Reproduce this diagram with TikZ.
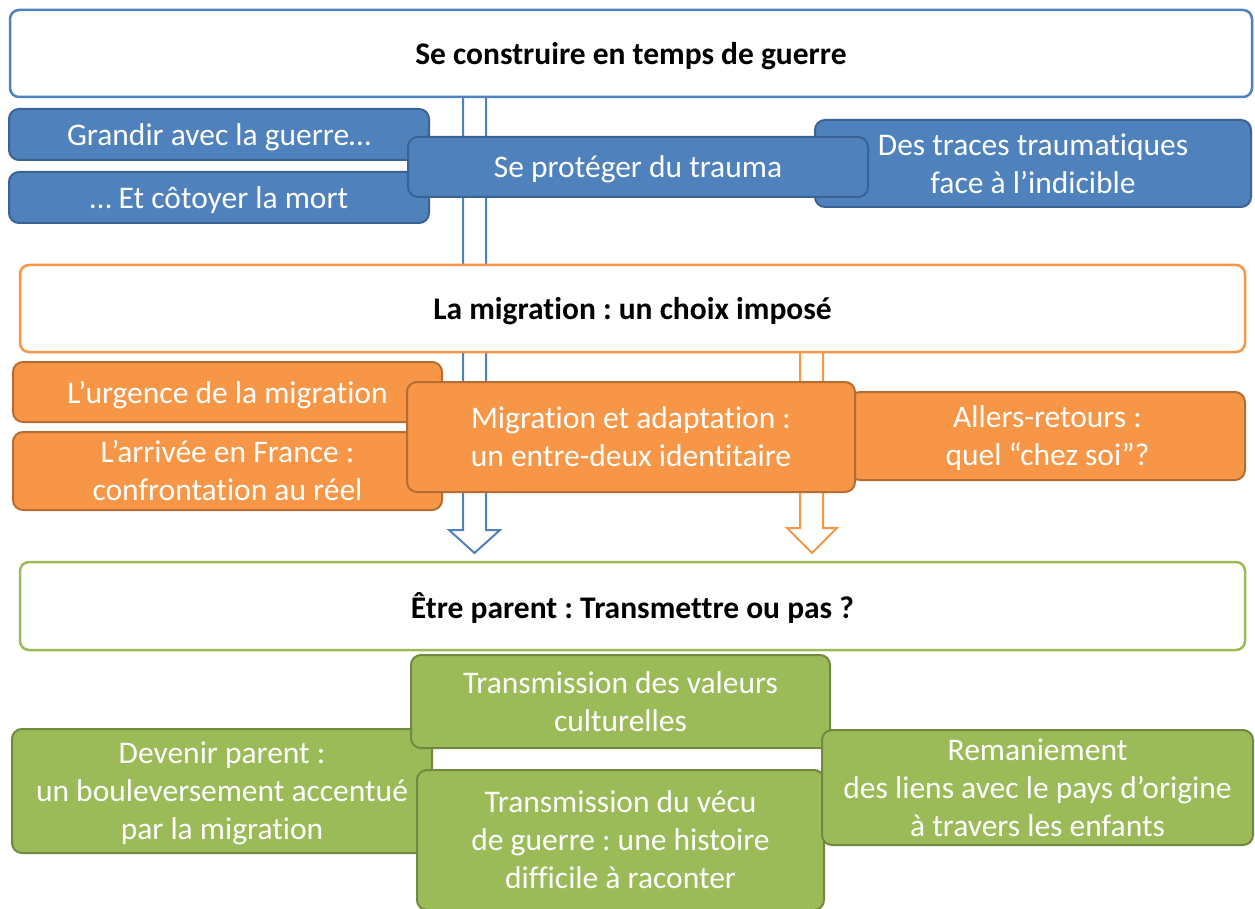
\documentclass[tikz,border=0pt]{standalone}
\usepackage{fontspec}
\setmainfont{Carlito}[Ligatures=NoCommon]
\usetikzlibrary{calc}
\definecolor{bluefill}{HTML}{4F81BD}
\definecolor{blueedge}{HTML}{3A6293}
\definecolor{orangefill}{HTML}{F79646}
\definecolor{orangeedge}{HTML}{B66D31}
\definecolor{greenfill}{HTML}{9BBB59}
\definecolor{greenedge}{HTML}{71893F}
\newcommand\mkbox[7]{\node[#1, minimum width={(#5-#3)*1pt}, minimum height={(#6-#4)*1pt}] (#2) at ({(#3+#5)/2},{(#4+#6)/2}) {#7};}
\frenchspacing
\begin{document}
\begin{tikzpicture}[x=1pt,y=-1pt,
  lowtext/.style={text depth=0pt},
  header/.style={draw, line width=2.5pt, fill=white, rounded corners=9pt, text=black,
    font=\fontsize{31.5}{38}\selectfont\bfseries, inner sep=0pt, lowtext},
  subbox/.style={line width=2pt, rounded corners=10pt, text=white,
    font=\fontsize{31.5}{38}\selectfont, align=center, inner sep=0pt},
  bluebox/.style={subbox, draw=blueedge, fill=bluefill},
  orangebox/.style={subbox, draw=orangeedge, fill=orangefill},
  greenbox/.style={subbox, draw=greenedge, fill=greenfill},
  hollowarrow/.style={line width=2pt, fill=white, line join=miter}
]
\useasboundingbox (0,0) rectangle (1255,909);
% hollow arrows (behind everything)
\coordinate (b1) at (463,97);  \coordinate (b2) at (463,530); \coordinate (b3) at (449,530);
\coordinate (b4) at (474.5,553); \coordinate (b5) at (500,530); \coordinate (b6) at (486,530);
\coordinate (b7) at (486,97);
\path[hollowarrow, draw=bluefill] (b1) -- (b2) -- (b3) -- (b4) -- (b5) -- (b6) -- (b7);
\coordinate (o1) at (800,352);  \coordinate (o2) at (800,528); \coordinate (o3) at (787,528);
\coordinate (o4) at (812,553); \coordinate (o5) at (837,528); \coordinate (o6) at (823,528);
\coordinate (o7) at (823,352);
\path[hollowarrow, draw=orangefill] (o1) -- (o2) -- (o3) -- (o4) -- (o5) -- (o6) -- (o7);
% headers
\mkbox{header, draw=bluefill}{h1}{10}{10}{1252}{97}{Se construire en temps de guerre}
\mkbox{header, draw=orangefill}{h2}{20}{265}{1245}{352}{La migration : un choix imposé}
\mkbox{header, draw=greenfill}{h3}{20}{562}{1245}{650}{Être parent : Transmettre ou pas ?}
% blue boxes
\mkbox{bluebox, lowtext}{grandir}{9}{109}{429}{160}{Grandir avec la guerre…}
\mkbox{bluebox, lowtext}{cotoyer}{9}{172}{429}{223}{… Et côtoyer la mort}
\mkbox{bluebox}{traces}{815}{120}{1251}{207}{Des traces traumatiques\\face à l’indicible}
\mkbox{bluebox, lowtext}{proteger}{408}{137}{868}{197}{Se protéger du trauma}
% orange boxes
\mkbox{orangebox, lowtext}{urgence}{13}{362}{442}{422}{L’urgence de la migration}
\mkbox{orangebox}{arrivee}{13}{432}{442}{510}{L’arrivée en France :\\confrontation au réel}
\mkbox{orangebox, lowtext}{allers}{850}{392}{1245}{480}{Allers-retours :\\quel “chez soi”?}
\mkbox{orangebox}{adapt}{407}{382}{855}{492}{Migration et adaptation :\\un entre-deux identitaire}
% green boxes
\mkbox{greenbox, lowtext}{devenir}{12}{729}{432}{853}{Devenir parent :\\un bouleversement accentué\\par la migration}
\mkbox{greenbox, lowtext}{valeurs}{411}{655}{830}{748}{Transmission des valeurs\\culturelles}
\mkbox{greenbox, lowtext}{vecu}{417}{770}{824}{910}{Transmission du vécu\\de guerre : une histoire\\difficile à raconter}
\mkbox{greenbox}{remaniement}{822}{730}{1253}{845}{Remaniement\\des liens avec le pays d’origine\\à travers les enfants}
\end{tikzpicture}
\end{document}
